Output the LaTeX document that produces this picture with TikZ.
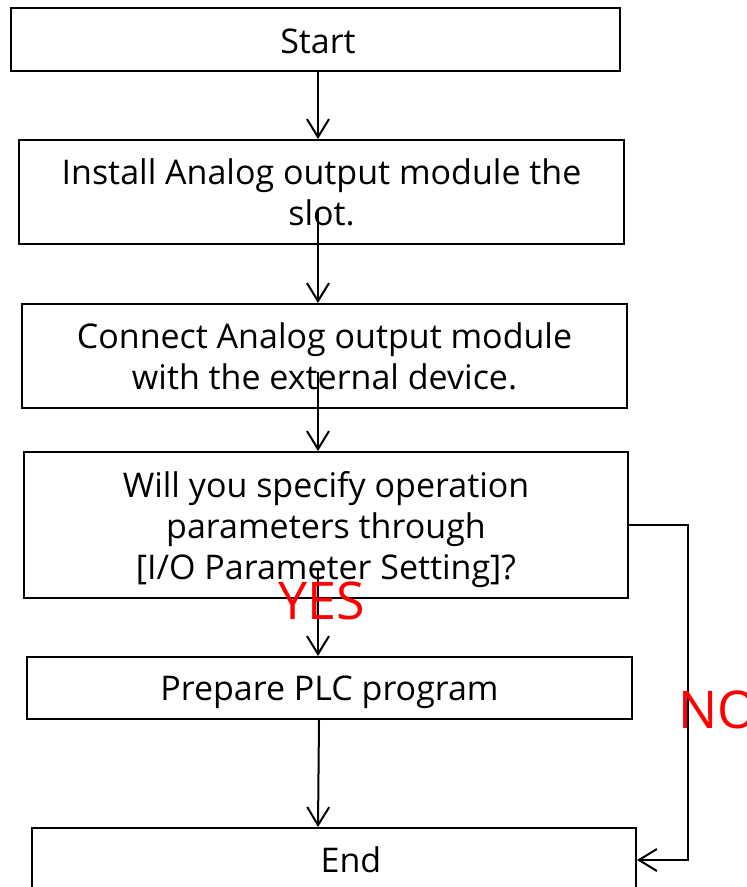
\documentclass[tikz,border=0pt]{standalone}
\usepackage{fontspec}
\setmainfont{Open Sans}
\usetikzlibrary{arrows.meta,calc}
\begin{document}
\begin{tikzpicture}[x=1pt,y=-1pt,
  box/.style={draw=black,line width=2pt,fill=white,inner sep=0pt,align=center,
    font=\fontsize{34}{41}\selectfont},
  arr/.style={draw=black,line width=2pt,-{Straight Barb[length=18pt,width=22pt,line width=2pt]}},
  lab/.style={text=red,font=\fontsize{52}{52}\selectfont,inner sep=0pt}]
\useasboundingbox (0,0) rectangle (747,887);
\fill[white] (0,0) rectangle (747,887);
\node[box,minimum width=609pt,minimum height=63pt] (s) at (315.5,39.5) {\hspace*{5pt}\raisebox{-2pt}[\height][\depth]{Start}};
\node[box,minimum width=605pt,minimum height=104pt] (b2) at (321.5,192) {Install Analog output module the\\slot.};
\node[box,minimum width=605pt,minimum height=104pt] (b3) at (324.5,356) {Connect Analog output module\\with the external device.};
\node[box,minimum width=604pt,minimum height=146pt] (b4) at (326,525) {\raisebox{-5pt}[\height][\depth]{\begin{tabular}{@{}c@{}}Will you specify operation\\parameters through\\{[I/O Parameter Setting]?}\end{tabular}}};
\node[box,minimum width=605pt,minimum height=62pt] (b5) at (329.5,688) {\raisebox{-4pt}[\height][\depth]{Prepare PLC program}};
\node[box,minimum width=604pt,minimum height=64pt] (e) at (334,860) {\hspace*{34pt}End};
\coordinate (cx) at (318,0);
\coordinate (b2in) at (318,210);
\coordinate (b3in) at (318,372);
\coordinate (b4in) at (318,568);
\draw[arr] (s.south -| cx) -- (b2.north -| cx);
\draw[arr] (b2in) -- (b2in |- b3.north);
\draw[arr] (b3in) -- (b3in |- b4.north);
\draw[arr] (b4in) -- (b4in |- b5.north);
\draw[arr] ($(b5.south -| cx)+(1,0)$) -- (e.north -| cx);
\draw[arr] (b4.east) -- ++(59,0) coordinate (nr) |- (e.east);
\node[lab] (yes) at (322,601) {YES};
\node[lab,anchor=west] (no) at (678,710) {NO};
\end{tikzpicture}
\end{document}
